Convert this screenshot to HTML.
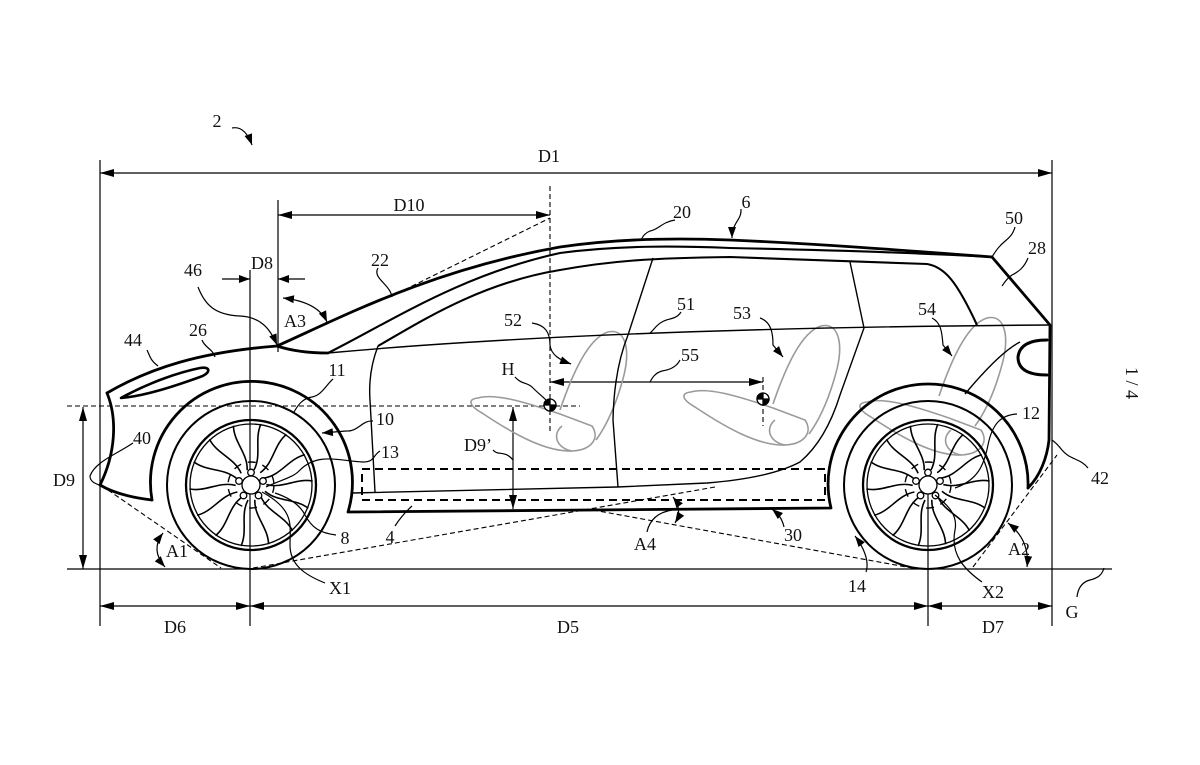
<!DOCTYPE html>
<html><head><meta charset="utf-8">
<style>
html,body{margin:0;padding:0;background:#fff;}
svg{display:block;}
text{font-family:"Liberation Serif",serif;font-size:18px;fill:#111;}
</style></head>
<body>
<svg width="1200" height="765" viewBox="0 0 1200 765" xmlns="http://www.w3.org/2000/svg">
<defs>
<marker id="a" viewBox="0 0 10 10" refX="10" refY="5" markerWidth="14" markerHeight="8" markerUnits="userSpaceOnUse" orient="auto-start-reverse" preserveAspectRatio="none"><path d="M0,0L10,5L0,10z" fill="#000"/></marker>
<marker id="s" viewBox="0 0 10 10" refX="10" refY="5" markerWidth="11" markerHeight="8" markerUnits="userSpaceOnUse" orient="auto-start-reverse" preserveAspectRatio="none"><path d="M0,0L10,5L0,10z" fill="#000"/></marker>
<path id="sp" d="M3,-15 C11,-30 3,-46 10,-61" fill="none" stroke="#000" stroke-width="1.6"/>
<g id="wheel" fill="none" stroke="#000">
<circle r="84" stroke-width="2"/>
<circle r="65" stroke-width="2.3"/>
<circle r="61" stroke-width="1.3"/>
<use href="#sp"/>
<use href="#sp" transform="rotate(25.7)"/>
<use href="#sp" transform="rotate(51.4)"/>
<use href="#sp" transform="rotate(77.1)"/>
<use href="#sp" transform="rotate(102.8)"/>
<use href="#sp" transform="rotate(128.5)"/>
<use href="#sp" transform="rotate(154.2)"/>
<use href="#sp" transform="rotate(180)"/>
<use href="#sp" transform="rotate(205.7)"/>
<use href="#sp" transform="rotate(231.4)"/>
<use href="#sp" transform="rotate(257.1)"/>
<use href="#sp" transform="rotate(282.8)"/>
<use href="#sp" transform="rotate(308.5)"/>
<use href="#sp" transform="rotate(334.2)"/>
<circle r="23" stroke-width="1.4" stroke-dasharray="8,7"/>
<circle r="9" stroke-width="1.3" fill="#fff"/>
<circle cx="0" cy="-12.5" r="3.3" stroke-width="1.3" fill="#fff"/>
<circle cx="12" cy="-4" r="3.3" stroke-width="1.3" fill="#fff"/>
<circle cx="7.5" cy="10.5" r="3.3" stroke-width="1.3" fill="#fff"/>
<circle cx="-7.5" cy="10.5" r="3.3" stroke-width="1.3" fill="#fff"/>
<circle cx="-12" cy="-4" r="3.3" stroke-width="1.3" fill="#fff"/>
</g>
<path id="sback" d="M560,410 C572,375 588,338 608,332 C626,328 630,350 624,375 C617,402 607,425 596,440" fill="none" stroke="#9a9a9a" stroke-width="1.6"/>
<g id="scush" fill="none" stroke="#9a9a9a" stroke-width="1.6">
<path d="M478,398 C495,393 525,402 560,414 L592,426 C600,438 592,450 572,451 C545,452 512,433 482,413 C468,405 468,399 478,398 Z"/>
<path d="M562,426 C552,434 556,448 572,451"/>
</g>
</defs>

<!-- dimension & reference lines -->
<g fill="none" stroke="#000" stroke-width="1.2">
<line x1="100" y1="160" x2="100" y2="626"/>
<line x1="1052" y1="160" x2="1052" y2="626"/>
<line x1="100" y1="173" x2="1052" y2="173" marker-start="url(#a)" marker-end="url(#a)"/>
<line x1="278" y1="200" x2="278" y2="352"/>
<line x1="278" y1="215" x2="550" y2="215" marker-start="url(#a)" marker-end="url(#a)"/>
<line x1="250" y1="270" x2="250" y2="626"/>
<line x1="928" y1="488" x2="928" y2="626"/>
<line x1="222" y1="279" x2="250" y2="279" marker-end="url(#s)"/>
<line x1="305" y1="279" x2="278" y2="279" marker-end="url(#s)"/>
<line x1="67" y1="569" x2="1112" y2="569"/>
<line x1="83" y1="407" x2="83" y2="569" marker-start="url(#a)" marker-end="url(#a)"/>
<line x1="100" y1="606" x2="250" y2="606" marker-start="url(#a)" marker-end="url(#a)"/>
<line x1="250" y1="606" x2="928" y2="606" marker-start="url(#a)" marker-end="url(#a)"/>
<line x1="928" y1="606" x2="1052" y2="606" marker-start="url(#a)" marker-end="url(#a)"/>
<line x1="550" y1="382" x2="763" y2="382" marker-start="url(#a)" marker-end="url(#a)"/>
<line x1="513" y1="407" x2="513" y2="509" marker-start="url(#a)" marker-end="url(#a)"/>
<path d="M283,298 Q318,302 327,322" marker-start="url(#s)" marker-end="url(#s)"/>
<path d="M163,533 Q150,550 165,567" marker-start="url(#s)" marker-end="url(#s)"/>
<path d="M1008,523 Q1030,540 1027,567" marker-start="url(#s)" marker-end="url(#s)"/>
<path d="M673,497 Q683,510 675,523" marker-start="url(#s)" marker-end="url(#s)"/>
</g>

<!-- dashed construction lines -->
<g fill="none" stroke="#000" stroke-width="1.1" stroke-dasharray="5,3">
<line x1="550" y1="186" x2="550" y2="432"/>
<line x1="763" y1="377" x2="763" y2="426"/>
<line x1="67" y1="406" x2="580" y2="406"/>
<line x1="390" y1="297" x2="550" y2="218"/>
<line x1="108" y1="490" x2="221" y2="568"/>
<line x1="253" y1="568" x2="715" y2="487"/>
<line x1="593" y1="510" x2="912" y2="568"/>
<line x1="973" y1="567" x2="1057" y2="455"/>
</g>

<!-- battery -->
<rect x="362" y="469" width="463" height="31" fill="none" stroke="#000" stroke-width="2" stroke-dasharray="8,5"/>

<!-- seats -->
<use href="#sback"/>
<use href="#scush"/>
<use href="#sback" transform="translate(213,-6)"/>
<use href="#scush" transform="translate(213,-6)"/>
<use href="#sback" transform="translate(379,-14)"/>
<use href="#scush" transform="translate(389,4)"/>

<!-- wheels -->
<use href="#wheel" transform="translate(251,485)"/>
<use href="#wheel" transform="translate(928,485)"/>

<!-- body thick -->
<g fill="none" stroke="#000" stroke-width="2.8" stroke-linejoin="round" stroke-linecap="round">
<path d="M107,393 C150,368 200,352 277,346 Q298,353 328,353"/>
<path d="M107,393 C118,420 115,455 100,485 C115,494 135,498 152,500"/>
<path d="M152,500 A101,101 0 1 1 348,512 L831,508 A100,100 0 1 1 1028,488"/>
<path d="M1028,488 C1040,476 1047,458 1049,440 L1050,325 L992,257"/>
<path d="M277,346 C340,318 430,270 560,247 C620,238 680,238 730,240 C820,244 900,250 992,257"/>
<path d="M121,398 C150,382 180,372 200,368 C212,366 210,374 200,377 C175,386 145,396 121,398 Z" stroke-width="2.6"/>
<path d="M1047,340 Q1020,340 1018,357 Q1018,375 1047,375" stroke-width="3"/>
</g>
<g fill="none" stroke="#000" stroke-width="2.1" stroke-linejoin="round">
<path d="M328,353 C390,322 460,275 560,253 C620,245 680,246 730,248 C830,250 920,253 992,257"/>
<path d="M378,346 C420,322 480,283 560,270 C610,261 650,258 730,257 L927,264 C945,267 957,282 977,325"/>
</g>
<!-- body thin -->
<g fill="none" stroke="#000" stroke-width="1.4">
<path d="M328,353 Q600,328 1050,325"/>
<path d="M378,346 Q368,372 370,400 L375,492"/>
<path d="M653,258 L628,335 Q614,370 613,420 L618,487"/>
<path d="M850,262 L864,328 L840,395 Q826,440 800,462 Q770,478 707,483 L617,487 L352,493"/>
<path d="M1020,342 Q1000,352 965,394"/>
</g>

<!-- H points -->
<g stroke="#000" stroke-width="1.3">
<circle cx="550" cy="405" r="6" fill="#fff"/>
<path d="M550,405 L544,405 A6,6 0 0 1 550,399 Z M550,405 L556,405 A6,6 0 0 1 550,411 Z" fill="#000"/>
<circle cx="763" cy="399" r="6" fill="#fff"/>
<path d="M763,399 L757,399 A6,6 0 0 1 763,393 Z M763,399 L769,399 A6,6 0 0 1 763,405 Z" fill="#000"/>
</g>

<!-- leaders -->
<g fill="none" stroke="#000" stroke-width="1.2">
<path d="M232,128 C242,126 248,134 252,145" marker-end="url(#s)"/>
<path d="M675,220 C662,222 658,230 650,231 C645,233 643,236 641,240"/>
<path d="M741,209 C742,220 732,222 732,238" marker-end="url(#s)"/>
<path d="M1015,227 C1012,238 1005,240 1000,246 C996,250 994,254 992,257"/>
<path d="M1028,258 C1024,268 1018,272 1012,275 C1007,278 1005,282 1002,286"/>
<path d="M378,268 C372,278 390,284 392,297"/>
<path d="M198,287 C205,305 215,315 240,316 C260,317 270,328 277,345" marker-end="url(#s)"/>
<path d="M147,350 C150,356 150,360 158,366"/>
<path d="M202,340 C205,348 212,348 215,357"/>
<path d="M532,323 C545,325 550,332 550,345 C551,355 560,360 571,364" marker-end="url(#s)"/>
<path d="M681,312 C676,320 668,318 662,322 C656,325 654,330 650,333"/>
<path d="M760,318 C772,322 773,335 773,345 L783,357" marker-end="url(#s)"/>
<path d="M932,318 C942,323 942,335 943,345 L952,356" marker-end="url(#s)"/>
<path d="M680,360 C676,368 668,370 662,371 C655,373 652,378 650,382"/>
<path d="M515,377 C522,385 528,382 533,388 C538,393 542,396 546,400"/>
<path d="M333,379 C326,385 322,395 312,397 C303,398 298,405 294,412"/>
<path d="M373,421 C362,420 358,432 346,431 L322,433" marker-end="url(#s)"/>
<path d="M380,451 C373,455 375,462 363,462 C340,461 318,452 300,470 C293,478 280,480 266,487"/>
<path d="M133,443 C115,455 95,462 90,476 C90,482 96,484 102,486"/>
<path d="M493,450 C498,456 505,450 513,460"/>
<path d="M336,535 C320,533 312,528 305,515 C300,505 290,498 275,493"/>
<path d="M325,583 C305,575 290,565 290,545 C290,525 295,510 262,492"/>
<path d="M395,526 Q402,515 412,506"/>
<path d="M647,532 C650,518 660,512 672,510"/>
<path d="M784,527 C782,518 778,514 772,509" marker-end="url(#s)"/>
<path d="M866,572 C870,560 862,545 855,536" marker-end="url(#s)"/>
<path d="M982,582 C965,570 950,555 955,530 C958,515 948,505 935,495"/>
<path d="M1017,414 C1000,415 992,425 988,445 C984,465 978,480 955,488"/>
<path d="M1088,468 C1080,458 1070,460 1062,450 C1058,445 1055,442 1052,440"/>
<path d="M1077,597 C1078,588 1082,582 1090,580 C1098,578 1102,575 1104,568"/>
</g>

<!-- labels -->
<g text-anchor="middle">
<text x="217" y="127">2</text>
<text x="549" y="162">D1</text>
<text x="409" y="211">D10</text>
<text x="682" y="218">20</text>
<text x="746" y="208">6</text>
<text x="1014" y="224">50</text>
<text x="1037" y="254">28</text>
<text x="380" y="266">22</text>
<text x="262" y="269">D8</text>
<text x="193" y="276">46</text>
<text x="295" y="327">A3</text>
<text x="133" y="346">44</text>
<text x="198" y="336">26</text>
<text x="513" y="326">52</text>
<text x="686" y="310">51</text>
<text x="742" y="319">53</text>
<text x="927" y="315">54</text>
<text x="690" y="361">55</text>
<text x="508" y="375">H</text>
<text x="337" y="376">11</text>
<text x="385" y="425">10</text>
<text x="390" y="458">13</text>
<text x="142" y="444">40</text>
<text x="64" y="486">D9</text>
<text x="478" y="451">D9’</text>
<text x="1031" y="419">12</text>
<text x="1100" y="484">42</text>
<text x="345" y="544">8</text>
<text x="390" y="543">4</text>
<text x="645" y="550">A4</text>
<text x="793" y="541">30</text>
<text x="177" y="557">A1</text>
<text x="1019" y="555">A2</text>
<text x="857" y="592">14</text>
<text x="340" y="594">X1</text>
<text x="993" y="598">X2</text>
<text x="1072" y="618">G</text>
<text x="175" y="633">D6</text>
<text x="568" y="633">D5</text>
<text x="993" y="633">D7</text>
<text x="1132" y="389" transform="rotate(90 1132 383)" font-size="16">1 / 4</text>
</g>
</svg>
</body></html>
